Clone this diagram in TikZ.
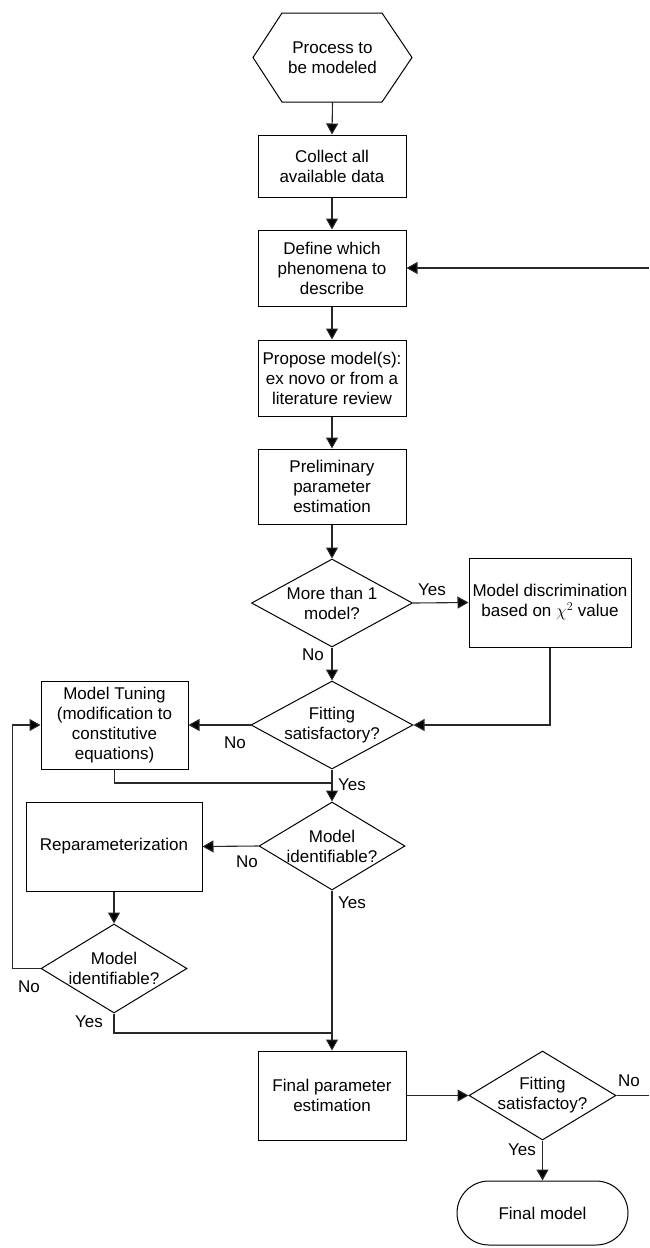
\documentclass[tikz,border=0pt]{standalone}
\usepackage{fontspec}
\setmainfont{Liberation Sans}
\usetikzlibrary{arrows.meta,shapes.geometric}
\begin{document}
\begin{tikzpicture}[x=1pt,y=-1pt,
  every node/.style={font=\fontsize{17}{20}\selectfont, align=center, inner sep=0pt},
  box/.style={draw=black, line width=1pt, rectangle},
  diam/.style={draw=black, line width=1pt, diamond},
  txt/.style={},
  lbl/.style={},
  conn/.style={draw={rgb,255:red,40;green,40;blue,40}, line width=1.1pt},
  arr/.style={conn, -{Triangle[length=11pt,width=12pt,fill=black]}}
]
\useasboundingbox (0,0) rectangle (649,1248);
\fill[white] (0,0) rectangle (649,1248);

% start hexagon
\draw[line width=1pt] (253,57.5) -- (282,13) -- (382,13) -- (412,57.5) -- (382,102) -- (282,102) -- cycle;
\node[minimum width=159pt, minimum height=89pt] (hex) at (332.5,57.5) {Process to\\be modeled};

\node[box, minimum width=148pt, minimum height=62pt] (b1) at (332,166) {Collect all\\available data};
\node[box, minimum width=148pt, minimum height=76pt] (b2) at (332,268) {Define which\\phenomena to\\describe};
\node[box, minimum width=148pt, minimum height=76pt] (b3) at (332,378) {Propose model(s):\\ex novo or from a\\literature review};
\node[box, minimum width=148pt, minimum height=75pt] (b4) at (332,486.5) {Preliminary\\parameter\\estimation};

\node[diam, minimum width=161pt, minimum height=88pt] (d1) at (332,603) {};
\node[txt] (d1t) at (332,603) {More than 1\\model?};
\node[box, minimum width=162pt, minimum height=89pt] (md) at (550,602.5) {Model discrimination\\based on $\chi^{2}$ value};

\node[diam, minimum width=162pt, minimum height=88pt] (d2) at (332,725) {};
\node[txt] (d2t) at (332,725) {Fitting\\satisfactory?};
\node[box, minimum width=147pt, minimum height=88pt] (tune) at (114.5,725) {Model Tuning\\(modification to\\constitutive\\equations)};

\node[diam, minimum width=146pt, minimum height=88pt] (d3) at (332,846) {};
\node[txt] (d3t) at (332,846) {Model\\identifiable?};
\node[box, minimum width=176pt, minimum height=89pt] (rep) at (114,846.5) {Reparameterization};

\node[diam, minimum width=146pt, minimum height=89pt] (d4) at (114,968.5) {};
\node[txt] (d4t) at (114,968.5) {Model\\identifiable?};

\node[box, minimum width=148pt, minimum height=89pt] (fpe) at (332,1095.5) {Final parameter\\estimation};
\node[diam, minimum width=147pt, minimum height=89pt] (d5) at (542.5,1095.5) {};
\node[txt] (d5t) at (542.5,1095.5) {Fitting\\satisfactoy?};
\node[box, rounded corners=32pt, minimum width=171pt, minimum height=64pt] (fin) at (542.5,1213) {Final model};

\coordinate (rin) at (649,268);
\coordinate (rout) at (649,1095.5);
\coordinate (mrg1) at (332,783);
\coordinate (mrg2) at (332,1033);

% connectors
\draw[arr] (hex.south) -- (b1.north);
\draw[arr] (b1) -- (b2);
\draw[arr] (b2) -- (b3);
\draw[arr] (b3) -- (b4);
\draw[arr] (b4.south) -- (d1.north);
\draw[arr] (d1.east) -- (md.west);
\draw[arr] (d1.south) -- (d2.north);
\draw[arr] (md.south) |- (d2.east);
\draw[arr] (d2.west) -- (tune.east);
\draw[conn] (tune.south) |- (mrg1);
\draw[arr] (d2.south) -- (d3.north);
\draw[arr] (d3.west) -- (rep.east);
\draw[arr] (rep.south) -- (d4.north);
\draw[arr] (d4.west) -- ++(-28,0) |- (tune.west);
\draw[arr] (d3.south) -- (fpe.north);
\draw[conn] (d4.south) |- (mrg2);
\draw[arr] (fpe.east) -- (d5.west);
\draw[conn] (d5.east) -- (rout);
\draw[arr] (rin) -- (b2.east);
\draw[arr] (d5.south) -- (fin.north);

% labels
\node[lbl] (l1) at (432,590) {Yes};
\node[lbl] (l2) at (313,655) {No};
\node[lbl] (l3) at (235,743) {No};
\node[lbl] (l4) at (352,785) {Yes};
\node[lbl] (l5) at (247,862) {No};
\node[lbl] (l6) at (352,903) {Yes};
\node[lbl] (l7) at (29,987) {No};
\node[lbl] (l8) at (89,1022) {Yes};
\node[lbl] (l9) at (629,1081) {No};
\node[lbl] (l10) at (522,1150) {Yes};
\end{tikzpicture}
\end{document}
